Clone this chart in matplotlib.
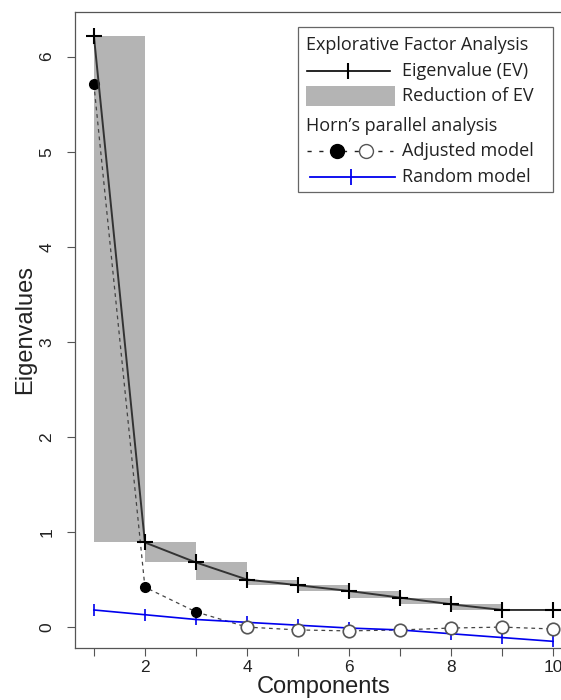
import matplotlib
matplotlib.use("Agg")
import matplotlib.pyplot as plt
from matplotlib.patches import Rectangle
from matplotlib.lines import Line2D

# Eigenvalues of the explorative factor analysis and Horn's parallel analysis
components = [1, 2, 3, 4, 5, 6, 7, 8, 9, 10]
eigenvalues = [6.22, 0.89, 0.68, 0.50, 0.44, 0.38, 0.31, 0.24, 0.18, 0.18]
adjusted = [5.71, 0.42, 0.16, 0.00, -0.03, -0.04, -0.03, -0.01, 0.00, -0.02]
random_ev = [0.18, 0.13, 0.08, 0.05, 0.02, -0.01, -0.03, -0.07, -0.11, -0.15]
n_retained = 3  # components with adjusted eigenvalue > 0

x_ticks = [1, 2, 3, 4, 5, 6, 7, 8, 9, 10]
x_ticklabels = ["", "2", "", "4", "", "6", "", "8", "", "10"]
y_ticks = [0, 1, 2, 3, 4, 5, 6]

plt.rcParams["font.family"] = ["Liberation Sans", "DejaVu Sans"]

W, H = 561, 700
fig = plt.figure(figsize=(W / 100, H / 100), dpi=100)
ax = fig.add_axes([75 / W, 1 - 648 / H, (572 - 75) / W, (648 - 12) / H])

bar_color = "#b4b4b4"
# reduction of EV between consecutive components
for i in range(len(components) - 1):
    lo, hi = eigenvalues[i + 1], eigenvalues[i]
    if hi - lo > 0:
        ax.add_patch(Rectangle((components[i], lo), 1, hi - lo,
                               facecolor=bar_color, edgecolor="none", zorder=1))

# adjusted model
ax.plot(components, adjusted, ls=(0, (3, 3)), color="#444444", lw=0.9, zorder=2)
ax.plot(components[:n_retained], adjusted[:n_retained], "o", color="black",
        ms=7, zorder=4)
ax.plot(components[n_retained:], adjusted[n_retained:], "o", mfc="white",
        mec="#555555", mew=1.2, ms=9, zorder=4)

# random model
ax.plot(components, random_ev, color="#0000ee", lw=1.2, marker="|", ms=8,
        mew=1.2, zorder=3)

# eigenvalues
ax.plot(components, eigenvalues, color="#333333", lw=1.4, zorder=5)
ax.plot(components, eigenvalues, "+", color="black", ms=12, mew=1.5, zorder=6)

ax.set_xlim(0.63, 10.37)
ax.set_ylim(-0.22, 6.47)
ax.set_xticks(x_ticks)
ax.set_xticklabels(x_ticklabels)
ax.set_yticks(y_ticks)
ax.set_yticklabels([str(v) for v in y_ticks], rotation=90, va="center")
ax.tick_params(direction="out", length=6, width=0.8, colors="#555555",
               labelcolor="#222222", labelsize=12.5)
ax.tick_params(axis="x", pad=3)
ax.tick_params(axis="y", pad=9)
for s in ax.spines.values():
    s.set_color("#555555")
    s.set_linewidth(0.9)
ax.set_xlabel("Components", fontsize=17, color="#222222")
ax.set_ylabel("Eigenvalues", fontsize=17, color="#222222")
ax.xaxis.set_label_coords(0.5, (648 - 687) / 636)
ax.xaxis.label.set_va("center")
ax.yaxis.set_label_coords((25 - 75) / 497, 0.5)
ax.yaxis.label.set_va("center")


def fx(x):
    return x / W


def fy(y):
    return 1 - y / H


leg_font = "Open Sans"
fs = 13
fig.add_artist(Rectangle((fx(298), fy(192)), fx(553) - fx(298), fy(27) - fy(192),
                         transform=fig.transFigure, facecolor="white",
                         edgecolor="#666666", lw=0.9, zorder=10))


def txt(x, y, s):
    fig.text(fx(x), fy(y), s, fontsize=fs, family=leg_font, va="center",
             ha="left", color="#222222", zorder=11)


txt(306, 45, "Explorative Factor Analysis")
txt(402, 71, "Eigenvalue (EV)")
txt(402, 96, "Reduction of EV")
txt(306, 126, "Horn\u2019s parallel analysis")
txt(402, 151, "Adjusted model")
txt(402, 177, "Random model")

fig.add_artist(Line2D([fx(307), fx(390)], [fy(71), fy(71)], color="black",
                      lw=1.2, zorder=11))
fig.add_artist(Line2D([fx(348)], [fy(71)], marker="|", color="black", ms=11,
                      mew=1.5, zorder=11))
fig.add_artist(Rectangle((fx(306), fy(106)), fx(395) - fx(306), fy(86) - fy(106),
                         transform=fig.transFigure, facecolor=bar_color,
                         edgecolor="none", zorder=11))
fig.add_artist(Line2D([fx(307), fx(393)], [fy(151), fy(151)], color="#222222",
                      ls=(0, (3, 5.5)), lw=1.0, zorder=11))
fig.add_artist(Line2D([fx(337)], [fy(151)], marker="o", color="black", ms=10,
                      zorder=12))
fig.add_artist(Line2D([fx(366)], [fy(151)], marker="o", mfc="white",
                      mec="#555555", mew=1.0, ms=10, zorder=12))
fig.add_artist(Line2D([fx(310), fx(395)], [fy(177), fy(177)], color="#0000ee",
                      lw=1.3, zorder=11))
fig.add_artist(Line2D([fx(351)], [fy(177)], marker="|", color="#0000ee", ms=12,
                      mew=1.3, zorder=11))

fig.savefig("out.png", dpi=100)
